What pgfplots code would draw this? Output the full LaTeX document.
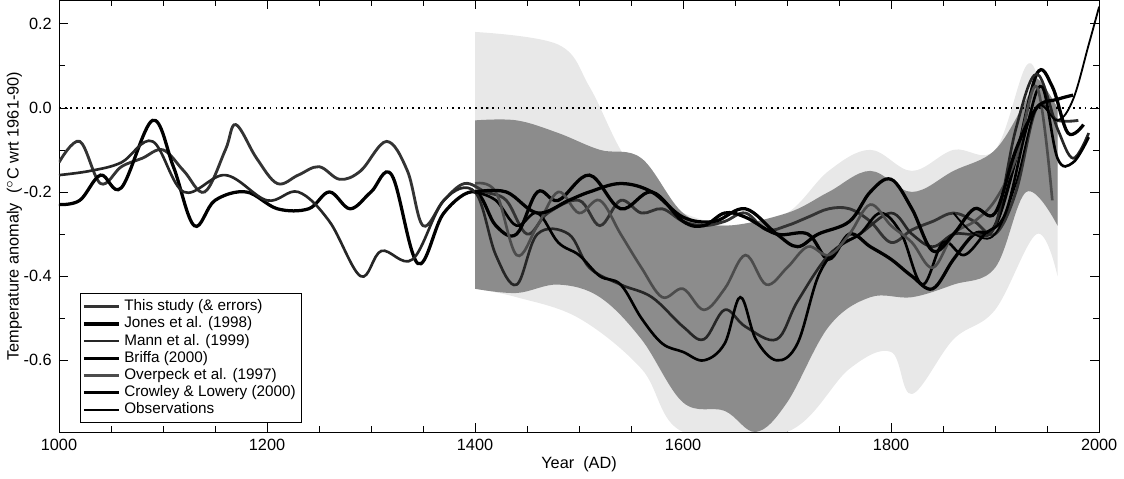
\documentclass[border=0pt]{standalone}
\usepackage{pgfplots}
\pgfplotsset{compat=1.18}
\usepgfplotslibrary{fillbetween}
\usepackage{fontspec}
\setmainfont{Liberation Sans}
\begin{document}
\begin{tikzpicture}
\begin{axis}[scale only axis, width=511pt, height=212pt,
 xmin=1000, xmax=2000, ymin=-0.77, ymax=0.255,
 xtick={1000,1200,...,2000}, ytick={-0.6,-0.4,...,0.2},
 xticklabel style={/pgf/number format/1000 sep={}},
 minor x tick num=3, minor y tick num=1,
 yticklabel style={/pgf/number format/.cd,fixed,precision=1,fixed zerofill},
 /pgf/number format/assume math mode=true,
 tick style={black}, tick align=inside,
 font=\fontsize{8}{9}\selectfont,
 xlabel={Year\ \ (AD)}, ylabel={Temperature anomaly\ \ ($^{\circ}$C wrt 1961-90)},
 xlabel style={yshift=4pt}, ylabel style={yshift=-6pt},
 legend style={at={(0.02,0.02)}, anchor=south west, font=\fontsize{7.5}{7.5}\selectfont, draw=black, row sep=-2.5pt, inner sep=1pt},
 legend cell align=left,
 every axis plot/.append style={smooth, tension=0.6}]
\addplot[name path=lu, draw=none, forget plot] coordinates {(1400,0.18)(1480,0.15)(1510,0.05)(1540,-0.1)(1570,-0.2)(1600,-0.25)(1650,-0.28)(1700,-0.25)(1740,-0.15)(1780,-0.1)(1820,-0.15)(1860,-0.1)(1900,-0.1)(1930,0.1)(1945,0.05)(1960,0.0)};
\addplot[name path=ll, draw=none, forget plot] coordinates {(1400,-0.43)(1440,-0.45)(1500,-0.5)(1560,-0.62)(1600,-0.77)(1700,-0.77)(1760,-0.62)(1800,-0.58)(1820,-0.68)(1860,-0.55)(1900,-0.48)(1940,-0.3)(1960,-0.4)};
\addplot[fill=black!9, forget plot] fill between[of=lu and ll];
\addplot[name path=du, draw=none, forget plot] coordinates {(1400,-0.03)(1440,-0.03)(1480,-0.06)(1520,-0.1)(1560,-0.12)(1600,-0.25)(1640,-0.28)(1700,-0.25)(1740,-0.2)(1780,-0.15)(1820,-0.2)(1860,-0.15)(1900,-0.1)(1930,0.02)(1940,0.07)(1960,0.0)};
\addplot[name path=dl, draw=none, forget plot] coordinates {(1400,-0.43)(1440,-0.44)(1480,-0.42)(1520,-0.45)(1560,-0.55)(1600,-0.7)(1640,-0.72)(1670,-0.77)(1700,-0.7)(1740,-0.52)(1780,-0.45)(1820,-0.45)(1860,-0.42)(1900,-0.38)(1930,-0.2)(1960,-0.28)};
\addplot[fill=black!45, forget plot] fill between[of=du and dl];
\addplot[black, dotted, thick, forget plot, smooth=false] coordinates {(1000,0)(2000,0)};
\addplot[black!80, line width=1.4pt] coordinates {(1000,-0.13)(1020,-0.08)(1040,-0.18)(1060,-0.14)(1080,-0.12)(1100,-0.1)(1120,-0.15)(1140,-0.2)(1160,-0.1)(1170,-0.04)(1190,-0.12)(1210,-0.18)(1230,-0.16)(1250,-0.14)(1270,-0.17)(1290,-0.15)(1315,-0.08)(1335,-0.15)(1350,-0.28)(1370,-0.22)(1390,-0.18)(1410,-0.2)(1430,-0.22)(1450,-0.3)(1470,-0.25)(1500,-0.22)(1520,-0.28)(1540,-0.22)(1560,-0.25)(1580,-0.24)(1600,-0.27)(1620,-0.28)(1640,-0.27)(1660,-0.25)(1680,-0.29)(1700,-0.28)(1720,-0.26)(1740,-0.24)(1760,-0.24)(1780,-0.27)(1800,-0.32)(1820,-0.29)(1840,-0.27)(1860,-0.25)(1880,-0.27)(1900,-0.3)(1920,-0.2)(1940,0.0)(1960,-0.03)(1980,-0.03)};
\addlegendentry{This study (\& errors)}
\addplot[black, line width=1.6pt] coordinates {(1000,-0.23)(1020,-0.22)(1040,-0.16)(1060,-0.19)(1090,-0.03)(1110,-0.14)(1130,-0.28)(1150,-0.22)(1180,-0.2)(1210,-0.24)(1240,-0.24)(1260,-0.2)(1280,-0.24)(1300,-0.2)(1320,-0.16)(1345,-0.37)(1370,-0.25)(1400,-0.2)(1420,-0.28)(1440,-0.3)(1460,-0.2)(1480,-0.22)(1510,-0.16)(1540,-0.24)(1570,-0.2)(1600,-0.27)(1620,-0.28)(1640,-0.25)(1660,-0.26)(1690,-0.3)(1720,-0.3)(1740,-0.36)(1760,-0.3)(1780,-0.33)(1800,-0.36)(1820,-0.4)(1840,-0.43)(1860,-0.36)(1880,-0.3)(1900,-0.28)(1920,-0.12)(1940,0.08)(1955,0.05)(1970,-0.06)(1985,-0.04)};
\addlegendentry{Jones et al. (1998)}
\addplot[black!85, line width=1.3pt] coordinates {(1000,-0.16)(1030,-0.15)(1060,-0.13)(1090,-0.08)(1120,-0.2)(1160,-0.16)(1200,-0.22)(1230,-0.2)(1260,-0.27)(1290,-0.4)(1310,-0.34)(1340,-0.36)(1370,-0.22)(1400,-0.2)(1420,-0.35)(1440,-0.42)(1460,-0.3)(1490,-0.3)(1510,-0.38)(1540,-0.42)(1570,-0.45)(1600,-0.52)(1620,-0.55)(1640,-0.48)(1660,-0.52)(1690,-0.55)(1710,-0.46)(1740,-0.35)(1770,-0.3)(1800,-0.25)(1820,-0.3)(1840,-0.33)(1860,-0.3)(1880,-0.3)(1900,-0.28)(1920,-0.05)(1940,0.08)(1960,-0.05)(1975,-0.12)(1990,-0.06)};
\addlegendentry{Mann et al. (1999)}
\addplot[black, line width=1.3pt] coordinates {(1400,-0.2)(1420,-0.22)(1440,-0.28)(1460,-0.25)(1480,-0.32)(1500,-0.35)(1520,-0.4)(1540,-0.42)(1560,-0.5)(1580,-0.56)(1600,-0.58)(1620,-0.6)(1640,-0.56)(1655,-0.45)(1670,-0.55)(1690,-0.6)(1710,-0.56)(1730,-0.4)(1750,-0.33)(1770,-0.3)(1790,-0.25)(1810,-0.3)(1830,-0.42)(1850,-0.32)(1870,-0.35)(1890,-0.3)(1910,-0.25)(1930,-0.05)(1945,0.05)(1960,-0.12)(1975,-0.13)(1990,-0.07)};
\addlegendentry{Briffa (2000)}
\addplot[black!70, line width=1.3pt] coordinates {(1400,-0.18)(1420,-0.2)(1440,-0.35)(1460,-0.28)(1480,-0.2)(1500,-0.25)(1520,-0.22)(1540,-0.3)(1560,-0.38)(1580,-0.45)(1600,-0.43)(1620,-0.48)(1640,-0.43)(1660,-0.35)(1680,-0.42)(1700,-0.38)(1720,-0.33)(1740,-0.35)(1760,-0.3)(1780,-0.23)(1800,-0.28)(1820,-0.32)(1840,-0.38)(1860,-0.3)(1880,-0.27)(1900,-0.22)(1920,-0.12)(1940,0.05)(1955,-0.22)};
\addlegendentry{Overpeck et al. (1997)}
\addplot[black, line width=1.6pt] coordinates {(1400,-0.2)(1430,-0.2)(1460,-0.25)(1490,-0.22)(1510,-0.2)(1540,-0.18)(1570,-0.2)(1600,-0.26)(1630,-0.27)(1660,-0.24)(1690,-0.3)(1710,-0.33)(1730,-0.3)(1760,-0.27)(1780,-0.2)(1800,-0.17)(1820,-0.24)(1840,-0.34)(1860,-0.3)(1880,-0.24)(1900,-0.25)(1920,-0.1)(1940,0.0)(1960,0.02)(1975,0.03)};
\addlegendentry{Crowley \& Lowery (2000)}
\addplot[black, line width=0.9pt] coordinates {(1860,-0.25)(1880,-0.3)(1900,-0.3)(1920,-0.18)(1940,0.0)(1960,-0.03)(1975,0.02)(1990,0.15)(2000,0.24)};
\addlegendentry{Observations}
\end{axis}
\end{tikzpicture}
\end{document}
